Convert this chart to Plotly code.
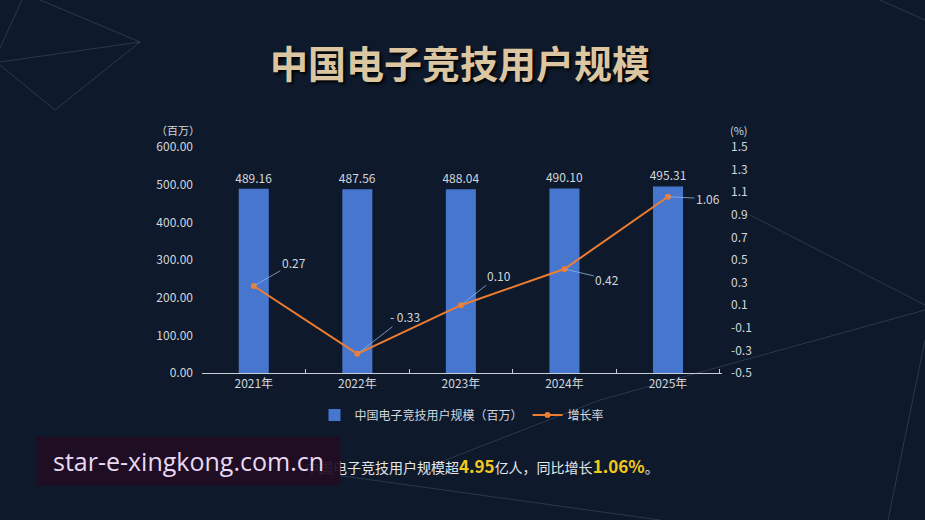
import plotly.graph_objects as go

# ---------------- data ----------------
years = ["2021年", "2022年", "2023年", "2024年", "2025年"]
users = [489.16, 487.56, 488.04, 490.10, 495.31]
growth = [0.27, -0.33, 0.10, 0.42, 1.06]
growth_labels = ["0.27", "- 0.33", "0.10", "0.42", "1.06"]
left_ticks = [0, 100, 200, 300, 400, 500, 600]
right_ticks = [-0.5, -0.3, -0.1, 0.1, 0.3, 0.5, 0.7, 0.9, 1.1, 1.3, 1.5]

# ---------------- layout geometry ----------------
W, H = 925, 520
L, R, T, B = 202, 722, 147, 373
FONT = "Noto Sans CJK SC"
TXT = "#d2d6de"
BG = "#0e1a2b"


def px(x):
    return (x - L) / (R - L)


def py(y):
    return (B - y) / (B - T)


fig = go.Figure()
fig.add_trace(go.Bar(
    x=years, y=users, name="中国电子竞技用户规模（百万）",
    marker=dict(color="#4776cf", line=dict(width=0)),
    width=0.29,
    text=[f"{v:.2f}" for v in users], textposition="outside",
    textfont=dict(color=TXT, size=12, family=FONT),
    constraintext="none",
    cliponaxis=False,
))
fig.add_trace(go.Scatter(
    x=years, y=growth, name="增长率", yaxis="y2", mode="lines+markers",
    line=dict(color="#ee7d31", width=2),
    marker=dict(color="#ee7d31", size=6),
))

annotations = []
offsets = [(40, -23), (48, -37), (38, -30), (43, 10), (40, 2)]
for yr, g, lab, (ax, ay) in zip(years, growth, growth_labels, offsets):
    annotations.append(dict(
        x=yr, y=g, xref="x", yref="y2", text=lab, showarrow=True,
        arrowhead=0, arrowwidth=0.8, arrowcolor="#8fb3e0",
        ax=ax, ay=ay, font=dict(color=TXT, size=12, family=FONT),
    ))


def note(x, y, text, **kw):
    d = dict(x=px(x), y=py(y), xref="paper", yref="paper", text=text,
             showarrow=False, xanchor="center", yanchor="middle")
    d.update(kw)
    annotations.append(d)


# axis unit labels
note(178, 130, "（百万）", font=dict(color=TXT, size=11, family=FONT))
note(739, 130, "(%)", font=dict(color=TXT, size=11, family=FONT))

# title
note(460, 61, "<b>中国电子竞技用户规模</b>",
     font=dict(color="#dcc6a2", size=38, family=FONT, shadow="2px 2px 3px #000000"))

# footer
note(661, 465,
     ("中国电子竞技用户规模超<b><span style='color:#f4c81c;font-size:17px'>4.95</span></b>"
      "亿人，同比增长<b><span style='color:#f4c81c;font-size:17px'>1.06%</span></b>。"),
     xanchor="right", font=dict(color="#e4e6ea", size=14, family=FONT))

# watermark box
note(188.5, 461, "star-e-xingkong.com.cn",
     width=295, height=40, borderpad=4, bgcolor="rgba(32,13,35,0.93)",
     font=dict(color="#e8d8f2", size=25, family="Open Sans"))

# faint background lines
bg_lines = [
    ((140, 42), (0, 62)), ((140, 42), (40, 0)), ((140, 42), (55, 110)),
    ((55, 110), (0, 65)), ((22, 0), (0, 48)),
    ((925, 305), (750, 215)), ((925, 310), (600, 400)), ((925, 340), (888, 520)),
    ((600, 400), (420, 470)), ((880, 0), (925, 20)), ((660, 520), (300, 470)),
]
shapes = []
for (x0, y0), (x1, y1) in bg_lines:
    shapes.append(dict(type="line", xref="paper", yref="paper",
                       x0=px(x0), y0=py(y0), x1=px(x1), y1=py(y1),
                       line=dict(color="rgba(120,135,160,0.28)", width=1), layer="below"))

fig.update_layout(
    width=W, height=H, autosize=False,
    margin=dict(l=L, r=W - R, t=T, b=H - B),
    paper_bgcolor=BG, plot_bgcolor="rgba(0,0,0,0)",
    font=dict(family=FONT, color=TXT, size=12),
    showlegend=True,
    legend=dict(orientation="h", x=0.5, xanchor="center", y=py(415), yanchor="middle",
                font=dict(color=TXT, size=12, family=FONT), bgcolor="rgba(0,0,0,0)",
                itemwidth=30),
    bargap=0.7,
    xaxis=dict(showgrid=False, showline=True, linecolor="#c8ccd4", linewidth=1,
               ticks="inside", tickson="boundaries", ticklen=4, tickcolor="#c8ccd4",
               tickfont=dict(color=TXT, size=12), zeroline=False, fixedrange=True),
    yaxis=dict(range=[0, 600], tickvals=left_ticks,
               ticktext=[f"{v:.2f}" for v in left_ticks], showgrid=False,
               zeroline=False, showline=False, tickfont=dict(color=TXT, size=12),
               ticklabelstandoff=8),
    yaxis2=dict(range=[-0.5, 1.5], tickvals=right_ticks,
                ticktext=[f"{v:.1f}" for v in right_ticks], overlaying="y", side="right",
                showgrid=False, zeroline=False, showline=False,
                tickfont=dict(color=TXT, size=12), ticklabelstandoff=8),
    annotations=annotations,
    shapes=shapes,
)

fig.write_html("out.html")
